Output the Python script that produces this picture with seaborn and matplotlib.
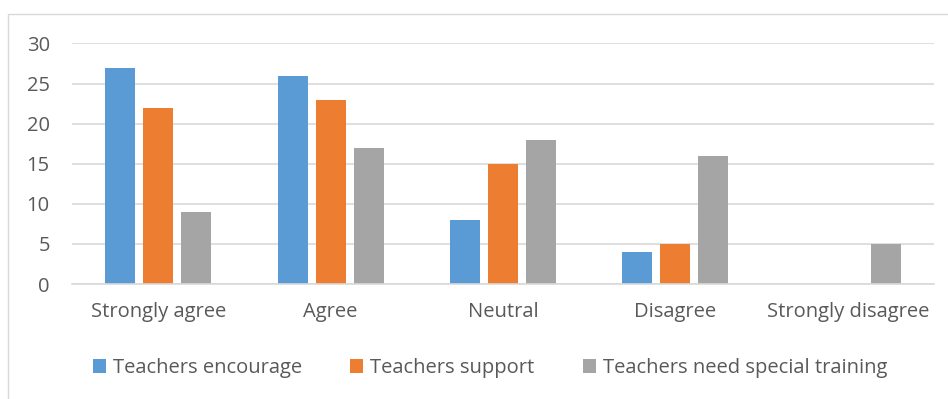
import matplotlib
matplotlib.use("Agg")
import matplotlib.pyplot as plt
import seaborn as sns
import pandas as pd
from matplotlib.patches import Rectangle

categories = ["Strongly agree", "Agree", "Neutral", "Disagree", "Strongly disagree"]
series_names = ["Teachers encourage", "Teachers support", "Teachers need special training"]
encourage = [27, 26, 8, 4, 0]
support = [22, 23, 15, 5, 0]
training = [9, 17, 18, 16, 5]
colors = ["#5B9BD5", "#ED7D31", "#A5A5A5"]
yticks = [0, 5, 10, 15, 20, 25, 30]

rows = []
for name, vals in zip(series_names, [encourage, support, training]):
    for c, v in zip(categories, vals):
        rows.append({"category": c, "series": name, "value": v})
df = pd.DataFrame(rows)

sns.set_theme(style="white")
plt.rcParams["font.family"] = ["Open Sans", "DejaVu Sans"]

W, H = 948, 399
fig = plt.figure(figsize=(W / 100, H / 100), dpi=100)
ax = fig.add_axes([72 / W, 1 - 284 / H, (934 - 72) / W, (284 - 43.5) / H])

sns.barplot(data=df, x="category", y="value", hue="series", order=categories,
            hue_order=series_names, palette=colors, width=0.661, gap=0.21,
            saturation=1, ax=ax, errorbar=None, legend=True, linewidth=0)

ax.set_ylim(0, 30)
ax.set_xlim(-0.5, 4.5)
ax.set_yticks(yticks)
ax.set_yticklabels([str(t) for t in yticks])
ax.yaxis.grid(True, color="#D9D9D9", linewidth=1.2)
ax.set_axisbelow(True)
for s in ["top", "right", "left"]:
    ax.spines[s].set_visible(False)
ax.spines["bottom"].set_color("#D9D9D9")
ax.spines["bottom"].set_linewidth(1.2)
ax.set_xlabel("")
ax.set_ylabel("")
ax.tick_params(axis="both", length=0, labelsize=14.5, colors="#595959")
ax.tick_params(axis="x", pad=13)
ax.tick_params(axis="y", pad=16)

handles, labels = ax.get_legend_handles_labels()
ax.legend_.remove()
fig.legend(handles, labels, loc="center", bbox_to_anchor=(490 / W, 1 - 368 / H),
           ncol=3, frameon=False, fontsize=14.5, labelcolor="#595959",
           handlelength=0.65, handleheight=0.65, handletextpad=0.35, columnspacing=2.4)

fig.patches.append(Rectangle((8 / W, -0.1), 1.1, 1 - 14 / H + 0.1, transform=fig.transFigure,
                             fill=False, edgecolor="#D9D9D9", linewidth=1.0))

fig.savefig("out.png", dpi=100)
